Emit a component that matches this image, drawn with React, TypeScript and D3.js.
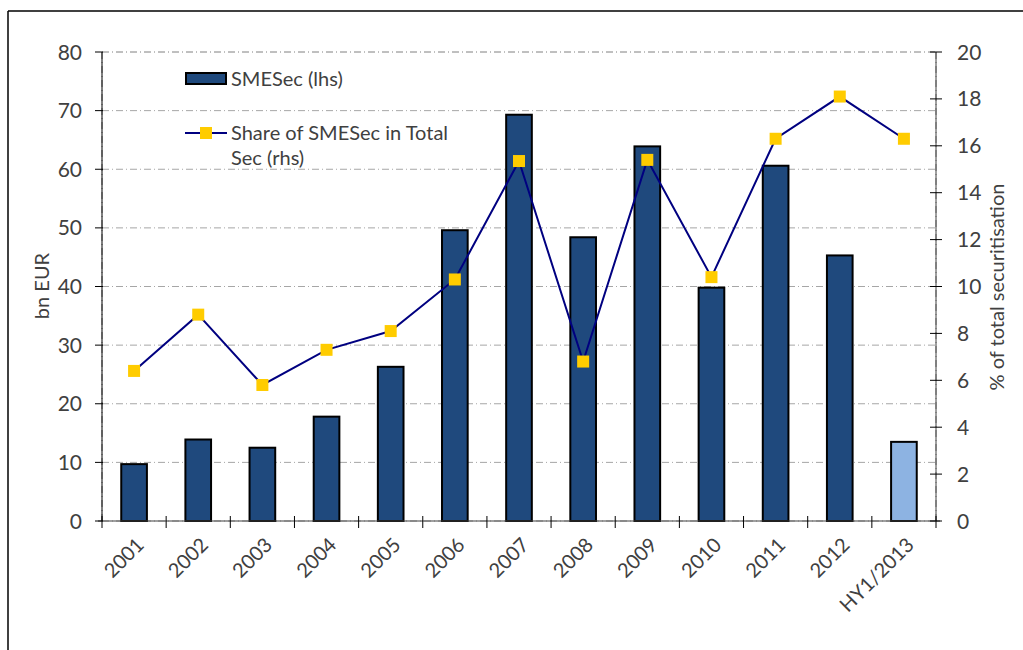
import React from "react";
import * as d3 from "d3";

const categories = ["2001","2002","2003","2004","2005","2006","2007","2008","2009","2010","2011","2012","HY1/2013"];
const smeSec = [9.7, 13.9, 12.5, 17.8, 26.3, 49.6, 69.3, 48.4, 63.9, 39.8, 60.6, 45.3, 13.5];
const sharePct = [6.4, 8.8, 5.8, 7.3, 8.1, 10.3, 15.35, 6.8, 15.4, 10.4, 16.3, 18.1, 16.3];
const leftTicks = [0, 10, 20, 30, 40, 50, 60, 70, 80];
const rightTicks = [0, 2, 4, 6, 8, 10, 12, 14, 16, 18, 20];

const W = 1023, H = 650;
const L = 102, R = 936, T = 52, B = 521;
const FONT = "Lato, 'Open Sans', sans-serif";
const TXT = "#404040";

export default function App() {
  const x = d3.scaleBand<string>().domain(categories).range([L, R]).paddingInner(0).paddingOuter(0);
  const yL = d3.scaleLinear().domain([0, 80]).range([B, T]);
  const yR = d3.scaleLinear().domain([0, 20]).range([B, T]);
  const bw = x.bandwidth() * 0.4;
  const cx = (c: string) => (x(c) as number) + x.bandwidth() / 2;
  const line = d3.line<number>().x((_, i) => cx(categories[i])).y((d) => yR(d));
  const boundaries = d3.range(categories.length + 1).map((i) => L + i * x.bandwidth());

  return (
    <svg width={W} height={H} style={{ position: "absolute", left: 0, top: 0, background: "#fff" }} fontFamily={FONT}>
      <rect x={0} y={0} width={W} height={H} fill="#fff" />
      {/* frame */}
      <line x1={8} y1={11} x2={W} y2={11} stroke="#000" strokeWidth={1.5} />
      <line x1={8} y1={11} x2={8} y2={H} stroke="#000" strokeWidth={1.5} />

      {/* gridlines */}
      {leftTicks.map((t) => (
        <line key={"g" + t} x1={L} x2={R} y1={yL(t)} y2={yL(t)} stroke={t === 80 ? "#808080" : "#a6a6a6"} strokeWidth={1} strokeDasharray="7,3,1,3" />
      ))}
      <line x1={L} x2={L} y1={T} y2={B} stroke="#808080" strokeDasharray="7,3,1,3" />
      <line x1={R} x2={R} y1={T} y2={B} stroke="#808080" strokeDasharray="7,3,1,3" />

      {/* bars */}
      {categories.map((c, i) => (
        <rect key={"b" + c} x={cx(c) - bw / 2} y={yL(smeSec[i])} width={bw} height={B - yL(smeSec[i])}
          fill={i === categories.length - 1 ? "#8DB3E2" : "#1F497D"} stroke="#000" strokeWidth={2} />
      ))}

      {/* axes */}
      <line x1={L} x2={L} y1={T} y2={B} stroke="#000" strokeWidth={1} />
      <line x1={R} x2={R} y1={T} y2={B} stroke="#404040" strokeWidth={1} />
      <line x1={L - 4} x2={R + 4} y1={B} y2={B} stroke="#404040" strokeWidth={1.2} />
      {leftTicks.map((t) => (
        <g key={"lt" + t}>
          <line x1={L - 7} x2={L + 1} y1={yL(t)} y2={yL(t)} stroke="#000" />
          <text x={82} y={yL(t)} dy="0.36em" textAnchor="end" fontSize={21} fill={TXT}>{t}</text>
        </g>
      ))}
      {rightTicks.map((t) => (
        <g key={"rt" + t}>
          <line x1={R - 6} x2={R + 6} y1={yR(t)} y2={yR(t)} stroke="#000" />
          <text x={957} y={yR(t)} dy="0.36em" textAnchor="start" fontSize={21} fill={TXT}>{t}</text>
        </g>
      ))}
      {boundaries.map((bx, i) => (
        <line key={"ct" + i} x1={bx} x2={bx} y1={B - 5} y2={B + 7} stroke="#000" />
      ))}
      {categories.map((c) => (
        <text key={"xl" + c} transform={`translate(${cx(c) + 1},${B + 15}) rotate(-45)`} textAnchor="end" dy="0.72em" fontSize={20} fill={TXT}>{c}</text>
      ))}

      {/* axis titles */}
      <text transform={`translate(49,286) rotate(-90)`} textAnchor="middle" fontSize={20} fill={TXT}>bn EUR</text>
      <text transform={`translate(1004,287) rotate(-90)`} textAnchor="middle" fontSize={20} fill={TXT}>% of total securitisation</text>

      {/* line series */}
      <path d={line(sharePct) as string} fill="none" stroke="#000080" strokeWidth={2} />
      {sharePct.map((v, i) => (
        <rect key={"m" + i} x={cx(categories[i]) - 6} y={yR(v) - 6} width={12} height={12} fill="#FFCC00" />
      ))}

      {/* legend */}
      <rect x={186} y={73} width={40} height={11} fill="#1F497D" stroke="#000" strokeWidth={2} />
      <text x={231} y={79} dy="0.36em" fontSize={20} fill={TXT}>SMESec (lhs)</text>
      <line x1={185} x2={227} y1={133} y2={133} stroke="#000080" strokeWidth={2} />
      <rect x={200} y={127} width={12} height={12} fill="#FFCC00" />
      <text x={231} y={133} dy="0.36em" fontSize={20} fill={TXT}>Share of SMESec in Total</text>
      <text x={231} y={158} dy="0.36em" fontSize={20} fill={TXT}>Sec (rhs)</text>
    </svg>
  );
}
